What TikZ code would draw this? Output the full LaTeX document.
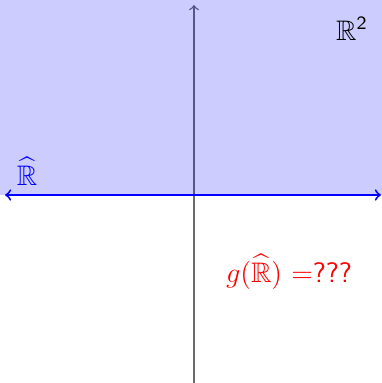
\documentclass[tikz,border=0pt]{standalone}
\usepackage{amsmath,amssymb}
\renewcommand{\familydefault}{\sfdefault}
\begin{document}
\begin{tikzpicture}[x=0.425pt,y=-0.425pt,
  axis/.style={gray!85!black,semithick,-to},
  realline/.style={blue,thick,<->},
  lab/.style={inner sep=0pt,font=\large}]
\useasboundingbox (0,0) rectangle (382,383);
\coordinate (vb) at (194,383);
\coordinate (vt) at (194,5);
\coordinate (hl) at (5,195);
\coordinate (hr) at (381,195);
\draw[axis] (vb) -- (vt);
\fill[blue,opacity=0.2] (0,0) rectangle (382,195);
\draw[realline] (hl) -- (hr);
\node[lab,anchor=base] (r2) at (352,40) {$\mathbb{R}^{\textsf{2}}$};
\node[lab,anchor=base,blue] (rh) at (27,185) {$\widehat{\mathbb{R}}$};
\node[lab,anchor=base,red] (g) at (289,282) {$g(\widehat{\mathbb{R}})$ ${=}$???};
\end{tikzpicture}
\end{document}
